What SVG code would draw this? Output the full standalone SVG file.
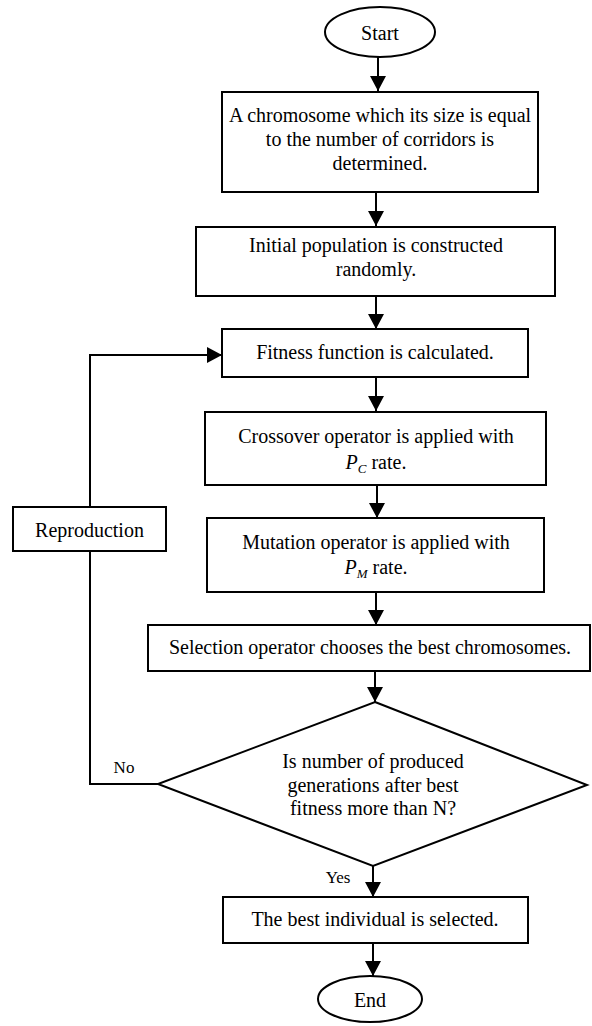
<svg xmlns="http://www.w3.org/2000/svg" width="592" height="1026" viewBox="0 0 592 1026">
<style>
.box{fill:#fff;stroke:#000;stroke-width:2}
.t{font-family:"Liberation Serif","Times New Roman",serif;font-size:20px;fill:#000;text-anchor:middle}
.s{font-family:"Liberation Serif","Times New Roman",serif;font-size:17px;fill:#000;text-anchor:middle}
.c{fill:none;stroke:#000;stroke-width:2}
</style>
<defs>
<marker id="ah" markerUnits="userSpaceOnUse" markerWidth="16" markerHeight="16" viewBox="0 0 16 16" refX="15" refY="8" orient="auto">
<path d="M0,0 L15,8 L0,16 Z" fill="#000"/>
</marker>
</defs>
<g id="connectors">
<line class="c" x1="378" y1="57" x2="378" y2="91" marker-end="url(#ah)"/>
<line class="c" x1="376" y1="193" x2="376" y2="226" marker-end="url(#ah)"/>
<line class="c" x1="376" y1="296" x2="376" y2="329" marker-end="url(#ah)"/>
<line class="c" x1="376" y1="377" x2="376" y2="411" marker-end="url(#ah)"/>
<line class="c" x1="377" y1="485" x2="377" y2="518" marker-end="url(#ah)"/>
<line class="c" x1="376" y1="592" x2="376" y2="625" marker-end="url(#ah)"/>
<line class="c" x1="375" y1="671" x2="375" y2="702" marker-end="url(#ah)"/>
<line class="c" x1="373" y1="866" x2="373" y2="897" marker-end="url(#ah)"/>
<line class="c" x1="373" y1="943" x2="373" y2="976" marker-end="url(#ah)"/>
<polyline class="c" points="158,784 90,784 90,551"/>
<polyline class="c" points="90,507 90,355 222,355" marker-end="url(#ah)"/>
<text class="s" x="124" y="773">No</text>
<text class="s" x="338" y="883">Yes</text>
</g>
<g id="start">
<ellipse class="box" cx="380" cy="32" rx="55" ry="25"/>
<text class="t" x="380" y="40">Start</text>
</g>
<g id="chromosome">
<rect class="box" x="222" y="92" width="316" height="100"/>
<text class="t" x="380" y="122">A chromosome which its size is equal</text>
<text class="t" x="380" y="146">to the number of corridors is</text>
<text class="t" x="380" y="170">determined.</text>
</g>
<g id="initial">
<rect class="box" x="196" y="227" width="359" height="69"/>
<text class="t" x="376" y="252">Initial population is constructed</text>
<text class="t" x="376" y="276">randomly.</text>
</g>
<g id="fitness">
<rect class="box" x="222" y="329" width="306" height="48"/>
<text class="t" x="375" y="359">Fitness function is calculated.</text>
</g>
<g id="crossover">
<rect class="box" x="205" y="412" width="341" height="73"/>
<text class="t" x="376" y="443">Crossover operator is applied with</text>
<text class="t" x="376" y="469"><tspan font-style="italic">P</tspan><tspan font-size="13" font-style="italic" dy="4">C</tspan><tspan dy="-4"> rate.</tspan></text>
</g>
<g id="mutation">
<rect class="box" x="207" y="518" width="337" height="74"/>
<text class="t" x="376" y="549">Mutation operator is applied with</text>
<text class="t" x="376" y="574"><tspan font-style="italic">P</tspan><tspan font-size="13" font-style="italic" dy="4">M</tspan><tspan dy="-4"> rate.</tspan></text>
</g>
<g id="reproduction">
<rect class="box" x="13" y="507" width="153" height="44"/>
<text class="t" x="89.5" y="537">Reproduction</text>
</g>
<g id="selection">
<rect class="box" x="148" y="625" width="442" height="46"/>
<text class="t" x="370" y="654">Selection operator chooses the best chromosomes.</text>
</g>
<g id="decision">
<polygon class="box" points="375,702 587,785 373,866 158,784"/>
<text class="t" x="373" y="768">Is number of produced</text>
<text class="t" x="373" y="792">generations after best</text>
<text class="t" x="373" y="815">fitness more than N?</text>
</g>
<g id="best">
<rect class="box" x="223" y="897" width="305" height="46"/>
<text class="t" x="375" y="926">The best individual is selected.</text>
</g>
<g id="end">
<ellipse class="box" cx="370" cy="999" rx="52" ry="23"/>
<text class="t" x="370" y="1007">End</text>
</g>
</svg>
